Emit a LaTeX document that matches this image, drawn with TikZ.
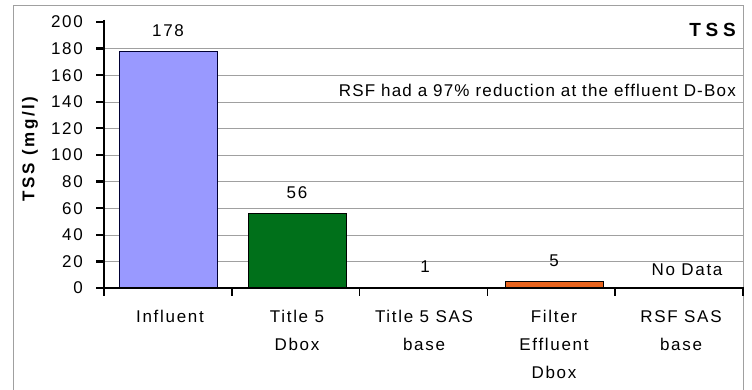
\documentclass[tikz,border=0pt]{standalone}
\usepackage{fontspec}
\setmainfont{Liberation Sans}[LetterSpace=10]
\usetikzlibrary{positioning}
\definecolor{influentblue}{HTML}{9999FF}
\definecolor{dboxgreen}{HTML}{00701A}
\definecolor{filterorange}{HTML}{E8641E}
\definecolor{framegray}{HTML}{A0A0A0}
\tikzset{
  bar/.style={draw=black,thin,anchor=south,minimum width=98pt,inner sep=0pt},
  value/.style={font=\fontsize{17}{19}\selectfont,inner sep=1pt},
  category/.style={font=\fontsize{17}{28}\selectfont,align=center,anchor=north,inner sep=0pt},
  ticklabel/.style={font=\fontsize{17}{19}\selectfont,anchor=east,inner sep=0pt}
}
\begin{document}
\begin{tikzpicture}[x=1pt,y=-1pt]
  \useasboundingbox (0,0) rectangle (752,390);
  % chart frame
  \draw[framegray,thick] (13,390) -- (13,5) -- (743,5) -- (743,390);
  % gridlines
  \foreach \v in {20,40,...,180}
    \draw[framegray] (104,288-1.33*\v) -- (743,288-1.33*\v);
  % bars
  \begin{scope}[every node/.style={bar}]
    \node[fill=influentblue,draw=black!80!blue,minimum height=236.7pt] (influent) at (168,288) {};
    \node[fill=dboxgreen,minimum height=74.5pt] (dbox) at (297,288) {};
    \node[fill=filterorange,minimum height=6.6pt] (filter) at (554,288) {};
  \end{scope}
  \coordinate (sasbase) at (425,286.7);
  \coordinate (rsfbase) at (687,288);
  % value labels
  \begin{scope}[every node/.style={value}]
    \node[above=13pt of influent] (v178) {178};
    \node[above=13pt of dbox] (v56) {56};
    \node[above=13pt of sasbase] (v1) {1};
    \node[above=13pt of filter] (v5) {5};
    \node[above=11pt of rsfbase] (nodata) {No Data};
  \end{scope}
  % axes
  \draw[line width=2.6pt] (104,20) -- (104,288) -- (744,288);
  \foreach \v in {0,20,...,200} {
    \draw[line width=2.2pt] (96,288-1.33*\v) -- (104,288-1.33*\v);
    \node[ticklabel] at (83,288-1.33*\v) {\v};
  }
  \foreach \k in {0,...,5}
    \draw[line width=1.6pt] (104+127.8*\k,288) -- (104+127.8*\k,296);
  % category labels
  \begin{scope}[every node/.style={category}]
    \node (cinfluent) at (170,310) {Influent};
    \node (cdbox) at (297,310) {Title 5\\Dbox};
    \node (csas) at (424,310) {Title 5 SAS\\base};
    \node (cfilter) at (554,310) {Filter\\Effluent\\Dbox};
    \node (crsf) at (681,310) {RSF SAS\\base};
  \end{scope}
  % titles
  \node[font=\bfseries\fontsize{17}{19}\selectfont\addfontfeature{LetterSpace=15},rotate=90] (ytitle) at (30,149) {TSS (mg/l)};
  \node[font=\bfseries\fontsize{19}{21}\selectfont\addfontfeature{LetterSpace=25},anchor=east,inner sep=0pt] (title) at (736,30) {TSS};
  \node[font=\fontsize{17}{19}\selectfont\addfontfeature{LetterSpace=7},anchor=east,inner sep=0pt] (note) at (736,90) {RSF had a 97\% reduction at the effluent D-Box};
\end{tikzpicture}
\end{document}
